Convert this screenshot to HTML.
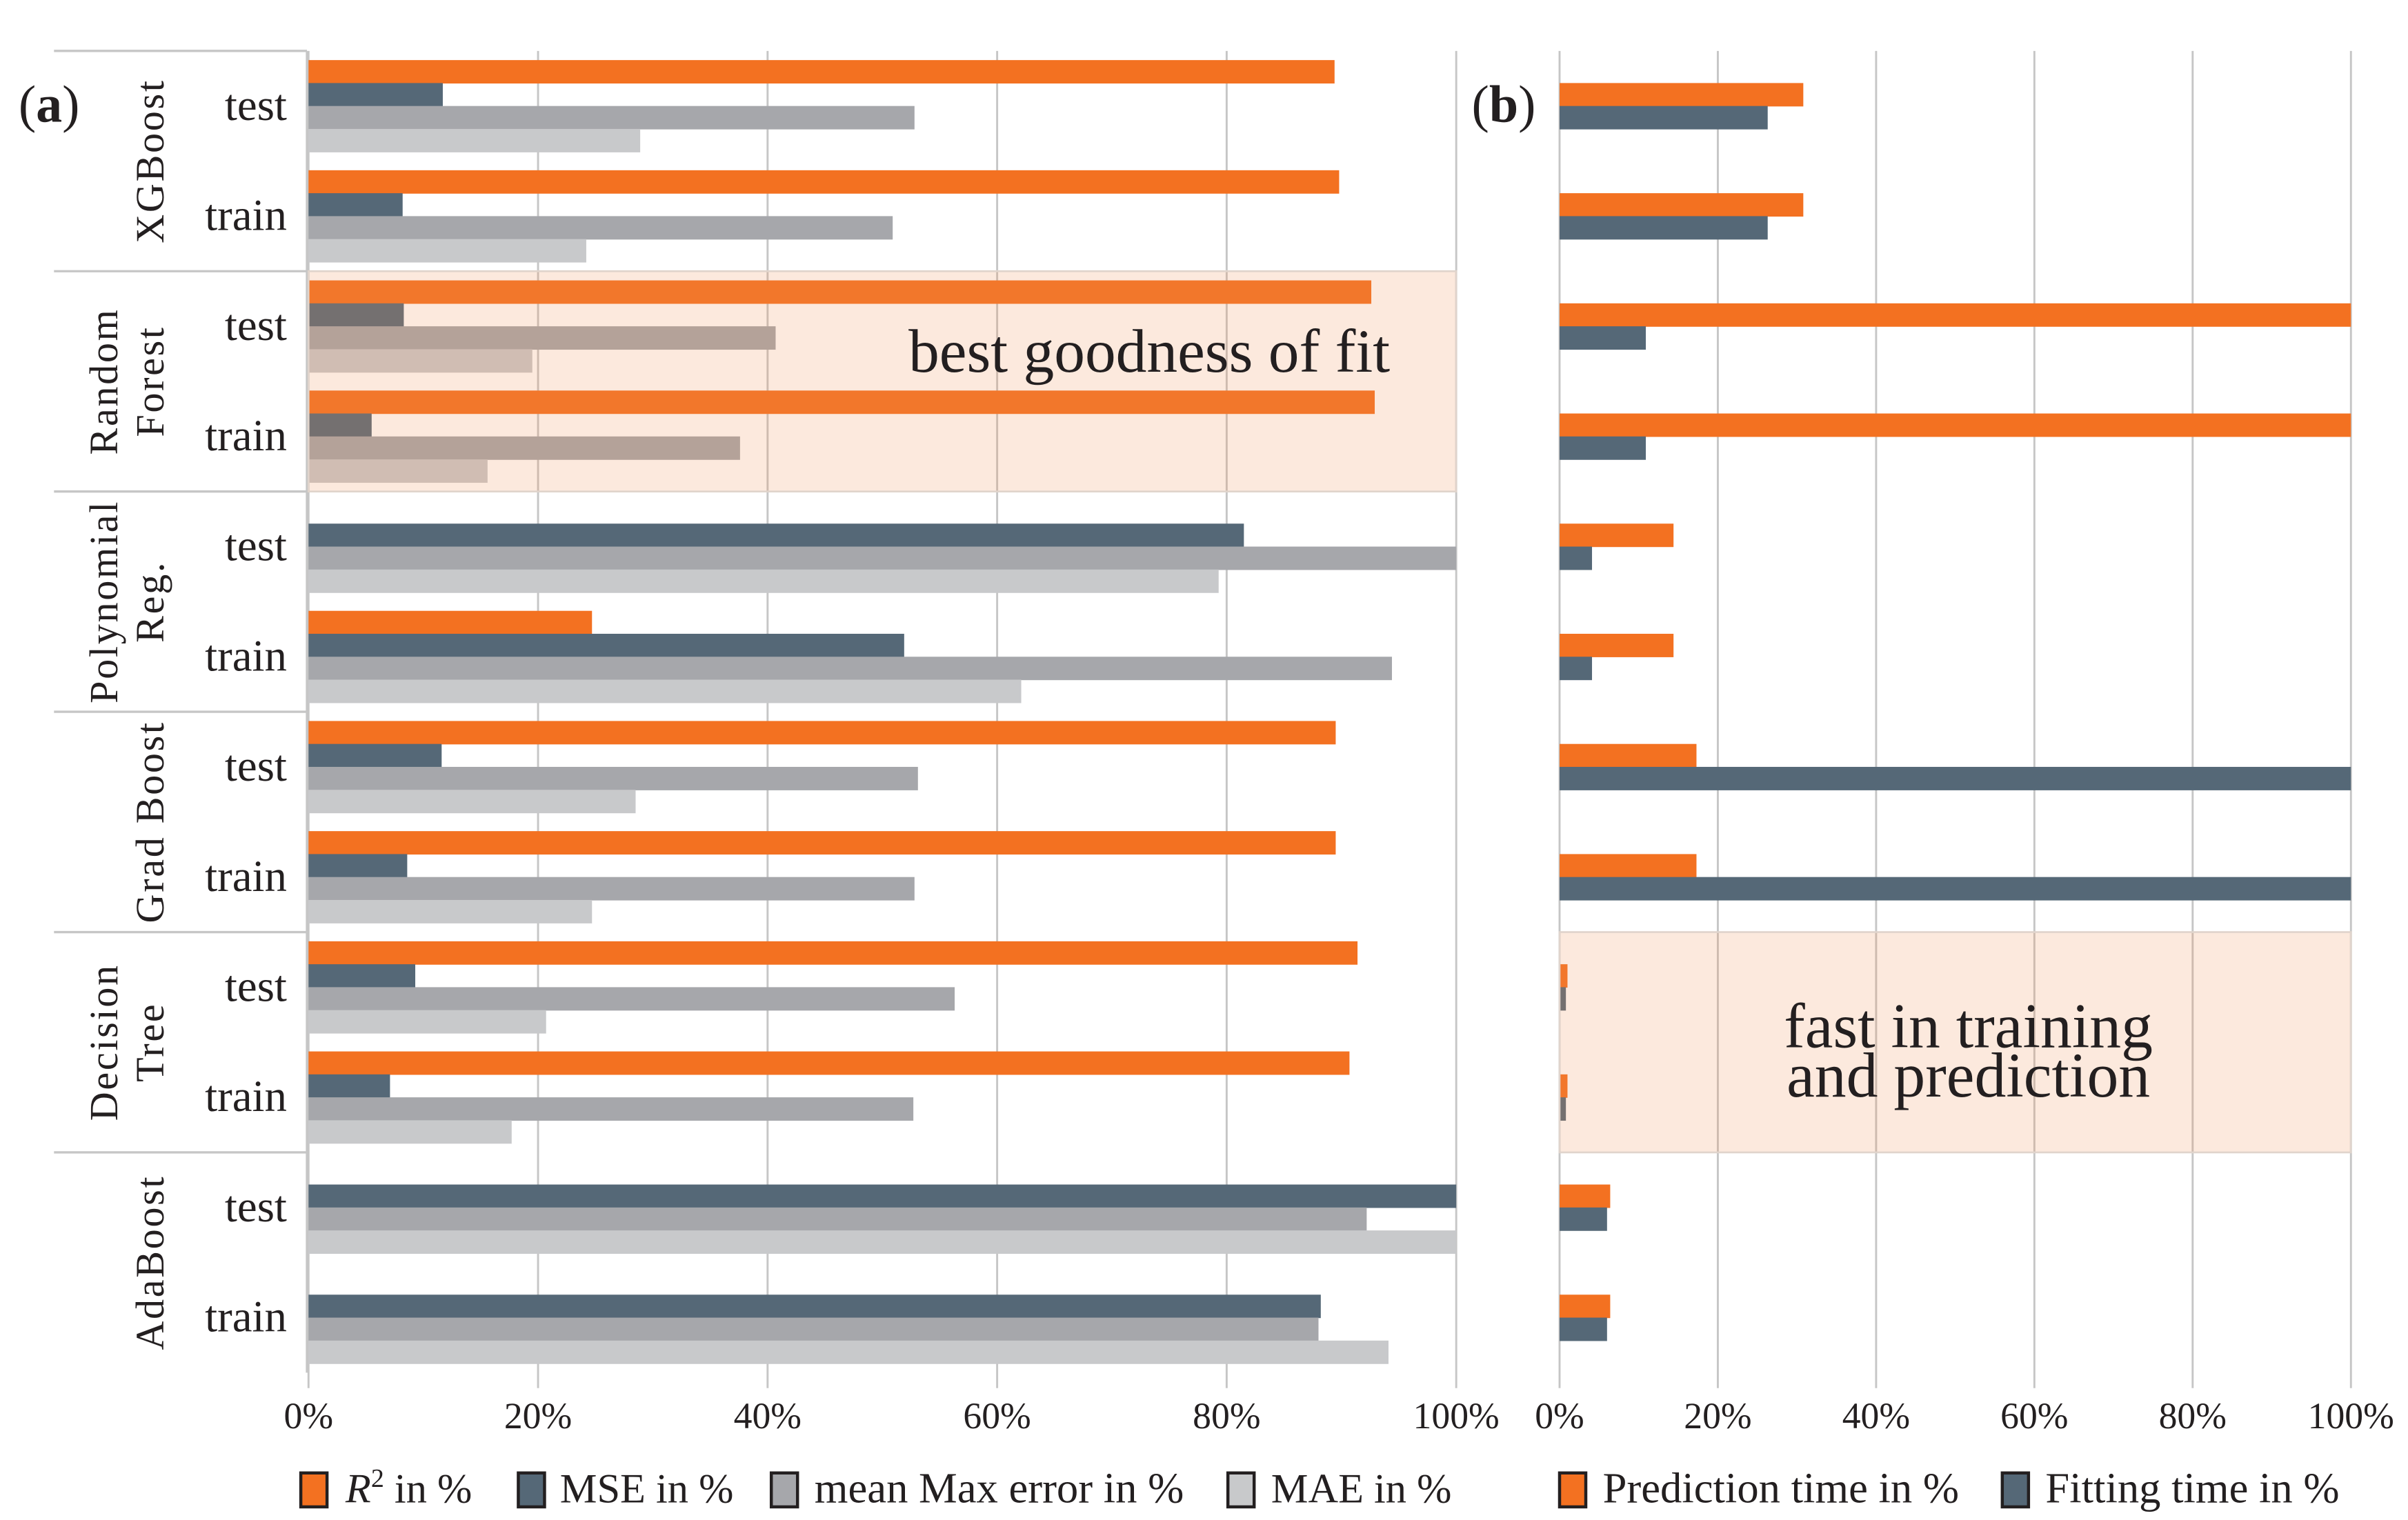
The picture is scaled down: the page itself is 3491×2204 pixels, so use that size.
<!DOCTYPE html>
<html><head><meta charset="utf-8"><style>
html,body{margin:0;padding:0;background:#fff;}
svg{display:block;}
text{font-family:"Liberation Serif",serif;fill:#231f20;}
</style></head><body>
<svg id="chart" width="3491" height="2204" viewBox="0 0 1561 985.5" xmlns="http://www.w3.org/2000/svg"></svg>
<script>
const groups = ["XGBoost","Random Forest","Polynomial Reg.","Grad Boost","Decision Tree","AdaBoost"];
const subcats = ["test","train"];
const r2Values = [89.4,89.8, 92.6,92.9, 0,24.7, 89.5,89.5, 91.4,90.7, 0,0];
const mseValues = [11.7,8.2, 8.3,5.5, 81.5,51.9, 11.6,8.6, 9.3,7.1, 100,88.2];
const maxErrValues = [52.8,50.9, 40.7,37.6, 100,94.4, 53.1,52.8, 56.3,52.7, 92.2,88.0];
const maeValues = [28.9,24.2, 19.5,15.6, 79.3,62.1, 28.5,24.7, 20.7,17.7, 100,94.1];
const predTimeValues = [30.8,30.8, 100,100, 14.4,14.4, 17.3,17.3, 1.0,1.0, 6.4,6.4];
const fitTimeValues = [26.3,26.3, 10.9,10.9, 4.1,4.1, 100,100, 0.8,0.8, 6.0,6.0];
const tickLabels = ["0%","20%","40%","60%","80%","100%"];
const tickValues = [0,20,40,60,80,100];

const NS="http://www.w3.org/2000/svg";
const svg=document.getElementById('chart');
function mk(tag,attrs,parent){const e=document.createElementNS(NS,tag);for(const k in attrs)e.setAttribute(k,attrs[k]);(parent||svg).appendChild(e);return e;}
const top0=33, bottom0=890, nCat=12, catH=(bottom0-top0)/nCat, barH=catH/4.8;
const xa=v=>200+v/100*744;
const xb=v=>1011+v/100*513;
const yCat=i=>top0+i*catH;

tickValues.forEach((t,i)=>{
  const g1=mk('line',{x1:xa(t),x2:xa(t),y1:top0,y2:900,stroke:'#c6c6c6','stroke-width':1.3});
  
  
  const g2=mk('line',{x1:xb(t),x2:xb(t),y1:top0,y2:900,stroke:'#c6c6c6','stroke-width':1.3});
  
  
  const l1=mk('text',{x:xa(t),y:926,'font-size':24,'text-anchor':'middle'});l1.textContent=tickLabels[i];
  
  
  const l2=mk('text',{x:xb(t),y:926,'font-size':24,'text-anchor':'middle'});l2.textContent=tickLabels[i];
  
  
});
const ax=mk('line',{x1:199,x2:199,y1:top0,y2:bottom0,stroke:'#c6c6c6','stroke-width':1.5});



for(let g=0;g<groups.length;g++){
  const y=yCat(g*2);
  const s=mk('line',{x1:35,x2:199,y1:y,y2:y,stroke:'#c6c6c6','stroke-width':1.5});
  
  
}
const groupLines=[["XGBoost"],["Random","Forest"],["Polynomial","Reg."],["Grad Boost"],["Decision","Tree"],["AdaBoost"]];
groupLines.forEach((lines,g)=>{
  const cy=yCat(g*2)+catH;
  const t=mk('text',{transform:`translate(0,${cy}) rotate(-90)`,'font-size':26,'text-anchor':'middle','letter-spacing':1.2});
  
  
  if(lines.length===1){mk('tspan',{x:0,y:106},t).textContent=lines[0];}
  else{mk('tspan',{x:0,y:76},t).textContent=lines[0];mk('tspan',{x:0,y:106},t).textContent=lines[1];}
});

const seriesA=[[r2Values,'#f37121'],[mseValues,'#556877'],[maxErrValues,'#a6a7ab'],[maeValues,'#c8c9cb']];
const namesA=['r2','mse','max-error','mae'];
for(let i=0;i<nCat;i++){
  const c=mk('text',{x:186,y:yCat(i)+catH/2+9,'font-size':29,'text-anchor':'end'});c.textContent=subcats[i%2];
  
  
  const y0=yCat(i)+(catH-4*barH)/2;
  seriesA.forEach((s,k)=>{
    const v=s[0][i]; if(v<=0) return;
    const r=mk('rect',{x:xa(0),y:y0+k*barH,width:xa(v)-xa(0),height:barH+0.3,fill:s[1]});
    
    
  });
  const yb=yCat(i)+catH/2-barH;
  [[predTimeValues,'#f37121','pred-time'],[fitTimeValues,'#556877','fit-time']].forEach((s,k)=>{
    const v=s[0][i]; if(v<=0) return;
    const r=mk('rect',{x:xb(0),y:yb+k*barH,width:xb(v)-xb(0),height:barH+0.3,fill:s[1]});
    
    
  });
}
const h1=mk('rect',{x:xa(0),y:yCat(2),width:xa(100)-xa(0),height:2*catH,fill:'rgb(240,145,85)','fill-opacity':0.2,stroke:'#e0d4cc','stroke-width':1.2});


const h2=mk('rect',{x:xb(0),y:yCat(8),width:xb(100)-xb(0),height:2*catH,fill:'rgb(240,145,85)','fill-opacity':0.2,stroke:'#e0d4cc','stroke-width':1.2});


const a1=mk('text',{x:745,y:241,'font-size':40,'text-anchor':'middle'});a1.textContent='best goodness of fit';


const a2=mk('text',{x:1276,y:679,'font-size':41,'text-anchor':'middle'});a2.textContent='fast in training';


const a3=mk('text',{x:1276,y:711,'font-size':41,'text-anchor':'middle'});a3.textContent='and prediction';


const pa=mk('text',{x:12,y:79,'font-size':34});


mk('tspan',{},pa).textContent='(';mk('tspan',{'font-weight':'bold'},pa).textContent='a';mk('tspan',{},pa).textContent=')';
const pb=mk('text',{x:954,y:79,'font-size':34});


mk('tspan',{},pb).textContent='(';mk('tspan',{'font-weight':'bold'},pb).textContent='b';mk('tspan',{},pb).textContent=')';

const legend=[[194,224,'#f37121','R2',27],[335,363,'#556877','MSE in %',27],[499,528,'#a6a7ab','mean Max error in %',28],[795,824,'#c8c9cb','MAE in %',27],[1010,1039,'#f37121','Prediction time in %',28],[1297,1326,'#556877','Fitting time in %',28]];
legend.forEach((l,i)=>{
  const r=mk('rect',{x:l[0]+1,y:955,width:17,height:22,fill:l[2],stroke:'#231f20','stroke-width':2});
  
  
  const t=mk('text',{x:l[1],y:974,'font-size':l[4]});
  
  
  if(l[3]==='R2'){
    mk('tspan',{'font-style':'italic'},t).textContent='R';
    mk('tspan',{'font-size':17,dy:-10},t).textContent='2';
    mk('tspan',{dy:10},t).textContent=' in %';
  } else t.textContent=l[3];
});
</script>
</body></html>
